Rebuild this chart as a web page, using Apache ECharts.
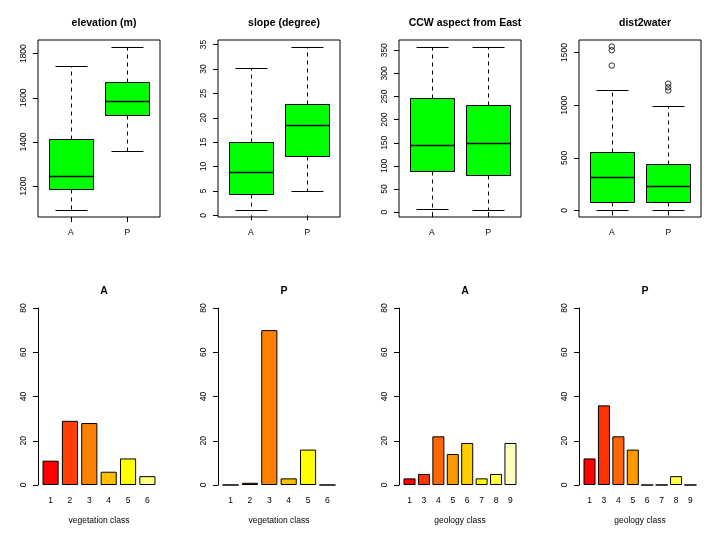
<!DOCTYPE html>
<html><head><meta charset="utf-8">
<script src="https://cdn.jsdelivr.net/npm/echarts@6/dist/echarts.min.js"></script>
<style>html,body{margin:0;padding:0;background:#fff}#c{width:722px;height:536px}</style>
</head><body><div id="c"></div>
<script>
// ---- data ----
const groups = ['A', 'P'];
const boxTitles = ['elevation (m)', 'slope (degree)', 'CCW aspect from East', 'dist2water'];
// [lower whisker, Q1, median, Q3, upper whisker]
const elevA = [1091, 1188, 1245, 1414, 1745];
const elevP = [1359, 1522, 1586, 1670, 1832];
const slopeA = [1.0, 4.3, 8.8, 15.0, 30.2];
const slopeP = [4.9, 12.2, 18.5, 22.8, 34.6];
const aspectA = [5.8, 88.6, 145.3, 246.9, 358];
const aspectP = [3.7, 80.6, 149.6, 231.6, 358];
const distA = [0, 83, 322, 559, 1140];
const distP = [0, 83, 236, 444, 990];
const distOutA = [1376, 1522, 1557];
const distOutP = [1140, 1170, 1204];
const elevTicks = [1200, 1400, 1600, 1800];
const slopeTicks = [0, 5, 10, 15, 20, 25, 30, 35];
const aspectTicks = [0, 50, 100, 150, 200, 250, 300, 350];
const distTicks = [0, 500, 1000, 1500];

const vegClasses = ['1', '2', '3', '4', '5', '6'];
const vegA = [11, 29, 28, 6, 12, 4];
const vegP = [0, 1, 70, 3, 16, 0];
const geoClasses = ['1', '3', '4', '5', '6', '7', '8', '9'];
const geoA = [3, 5, 22, 14, 19, 3, 5, 19];
const geoP = [12, 36, 22, 16, 0, 0, 4, 0];
const countTicks = [0, 20, 40, 60, 80];
const heat6 = ['#FF0000', '#FF4000', '#FF8000', '#FFBF00', '#FFFF00', '#FFFF80'];
const heat8 = ['#FF0000', '#FF3300', '#FF6600', '#FF9900', '#FFCC00', '#FFFF00', '#FFFF40', '#FFFFBF'];

// ---- layout ----
const FONT = '"Liberation Sans", Arial, Helvetica, sans-serif';
const PL = [38, 218, 399, 579];
const PW = 122;
const TOP1 = 40, H = 177, TOP2 = 308;
const LBL = 8.5;

const grids = [], xAxes = [], yAxes = [], series = [], titles = [];

function ext(vals) {
  const mn = Math.min(...vals), mx = Math.max(...vals), e = (mx - mn) * 0.04;
  return [mn - e, mx + e];
}

function renderBox(params, api) {
  const x = api.value(0);
  const py = v => Math.round(api.coord([x, v])[1]) + 0.5;
  const cx = Math.round(api.coord([x, api.value(3)])[0]) + 0.5;
  const yLo = py(api.value(1)), yQ1 = py(api.value(2)), yMed = py(api.value(3)),
        yQ3 = py(api.value(4)), yHi = py(api.value(5));
  const hb = Math.round(api.size([0.395, 0])[0]);
  const hc = Math.round(api.size([0.29, 0])[0]);
  const solid = { stroke: '#000', lineWidth: 1 };
  const dashed = { stroke: '#000', lineWidth: 1, lineDash: [4, 4] };
  return {
    type: 'group',
    children: [
      { type: 'line', shape: { x1: cx, y1: yQ1, x2: cx, y2: yLo }, style: dashed },
      { type: 'line', shape: { x1: cx, y1: yQ3, x2: cx, y2: yHi }, style: dashed },
      { type: 'line', shape: { x1: cx - hc, y1: yLo, x2: cx + hc, y2: yLo }, style: solid },
      { type: 'line', shape: { x1: cx - hc, y1: yHi, x2: cx + hc, y2: yHi }, style: solid },
      { type: 'rect', shape: { x: cx - hb, y: yQ3, width: 2 * hb, height: yQ1 - yQ3 },
        style: { fill: '#00FF00', stroke: '#000', lineWidth: 1 } },
      { type: 'line', shape: { x1: cx - hb, y1: yMed, x2: cx + hb, y2: yMed },
        style: { stroke: '#000', lineWidth: 1.6 } }
    ]
  };
}

const labelStyle = { color: '#000', fontFamily: FONT, fontSize: LBL };
const plain = v => String(Math.round(v * 100) / 100);

const boxPanels = [
  { title: boxTitles[0], a: elevA, p: elevP, ticks: elevTicks, outA: [], outP: [] },
  { title: boxTitles[1], a: slopeA, p: slopeP, ticks: slopeTicks, outA: [], outP: [] },
  { title: boxTitles[2], a: aspectA, p: aspectP, ticks: aspectTicks, outA: [], outP: [] },
  { title: boxTitles[3], a: distA, p: distP, ticks: distTicks, outA: distOutA, outP: distOutP }
];

boxPanels.forEach((bp, i) => {
  const [mn, mx] = ext([...bp.a, ...bp.p, ...bp.outA, ...bp.outP]);
  grids.push({ left: PL[i], top: TOP1, width: PW, height: H, show: true,
    borderColor: '#000', borderWidth: 1, backgroundColor: 'transparent' });
  xAxes.push({ gridIndex: i, type: 'value', min: 0.42, max: 2.58,
    axisLine: { show: false }, splitLine: { show: false },
    axisTick: { show: true, customValues: [1, 2], length: 5, lineStyle: { color: '#000' } },
    axisLabel: Object.assign({ customValues: [1, 2], formatter: v => groups[Math.round(v) - 1], margin: 11 }, labelStyle) });
  yAxes.push({ gridIndex: i, type: 'value', min: mn, max: mx,
    axisLine: { show: false }, splitLine: { show: false },
    axisTick: { show: true, customValues: bp.ticks, length: 5, lineStyle: { color: '#000' } },
    axisLabel: Object.assign({ customValues: bp.ticks, rotate: 90, margin: 10, formatter: plain }, labelStyle) });
  series.push({ type: 'custom', xAxisIndex: i, yAxisIndex: i, renderItem: renderBox,
    data: [[1, ...bp.a], [2, ...bp.p]], silent: true, clip: false });
  const outs = bp.outA.map(v => [1, v]).concat(bp.outP.map(v => [2, v]));
  if (outs.length) {
    series.push({ type: 'scatter', xAxisIndex: i, yAxisIndex: i, data: outs, symbol: 'circle', symbolSize: 5.5,
      itemStyle: { color: 'rgba(0,0,0,0)', borderColor: '#000', borderWidth: 1 }, silent: true });
  }
  titles.push({ text: bp.title, left: PL[i] + PW / 2, top: 13, textAlign: 'center',
    textStyle: { fontFamily: FONT, fontSize: 10.5, fontWeight: 'bold', color: '#000' } });
});

const barPanels = [
  { title: 'A', cats: vegClasses, vals: vegA, colors: heat6, xlab: 'vegetation class' },
  { title: 'P', cats: vegClasses, vals: vegP, colors: heat6, xlab: 'vegetation class' },
  { title: 'A', cats: geoClasses, vals: geoA, colors: heat8, xlab: 'geology class' },
  { title: 'P', cats: geoClasses, vals: geoP, colors: heat8, xlab: 'geology class' }
];

barPanels.forEach((bp, j) => {
  const i = j + 4, n = bp.cats.length;
  const span = 1.2 * n - 0.2;
  const u = PW / (1.08 * span);
  const gl = PL[j] + 0.04 * span * u - 0.1 * u;
  const gw = 1.2 * n * u;
  grids.push({ left: gl, top: TOP2, width: gw, height: H });
  xAxes.push({ gridIndex: i, type: 'category', data: bp.cats,
    axisLine: { show: false }, axisTick: { show: false }, splitLine: { show: false },
    axisLabel: Object.assign({ margin: 11, interval: 0 }, labelStyle),
    name: bp.xlab, nameLocation: 'middle', nameGap: 31,
    nameTextStyle: { color: '#000', fontFamily: FONT, fontSize: LBL } });
  yAxes.push({ gridIndex: i, type: 'value', min: 0, max: 80, offset: gl - PL[j],
    axisLine: { show: true, lineStyle: { color: '#000', width: 1 } },
    axisTick: { show: true, customValues: countTicks, length: 5, lineStyle: { color: '#000' } },
    axisLabel: Object.assign({ customValues: countTicks, rotate: 90, margin: 10, formatter: plain }, labelStyle),
    splitLine: { show: false } });
  series.push({ type: 'bar', xAxisIndex: i, yAxisIndex: i, barWidth: u,
    data: bp.vals.map((v, k) => ({ value: v, itemStyle: { color: bp.colors[k] } })),
    itemStyle: { borderColor: '#000', borderWidth: 1 }, silent: true });
  titles.push({ text: bp.title, left: PL[j] + PW / 2, top: 281, textAlign: 'center',
    textStyle: { fontFamily: FONT, fontSize: 10.5, fontWeight: 'bold', color: '#000' } });
});

const chart = echarts.init(document.getElementById('c'), null, { renderer: 'canvas' });
chart.setOption({
  animation: false,
  backgroundColor: '#fff',
  title: titles,
  grid: grids,
  xAxis: xAxes,
  yAxis: yAxes,
  series: series
});
</script>
</body></html>
